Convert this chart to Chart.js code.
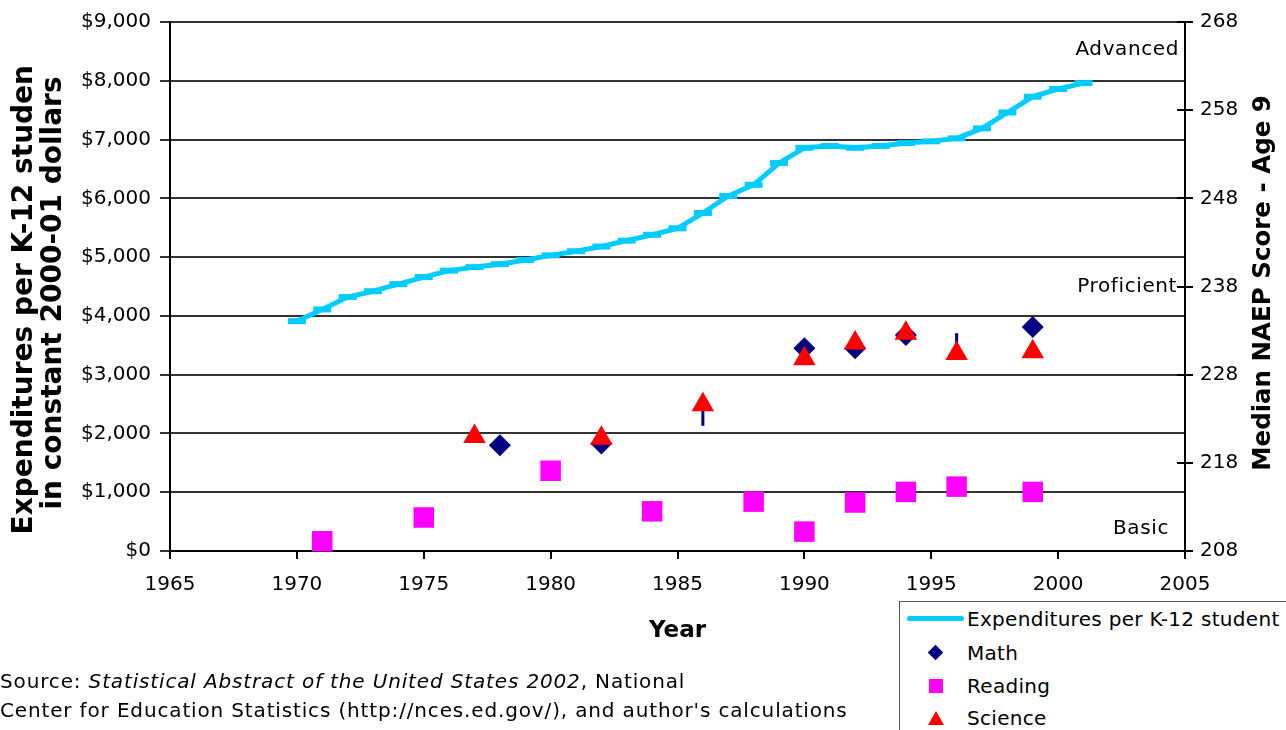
<!DOCTYPE html>
<html lang="en">
<head>
  <meta charset="UTF-8" />
  <title>Expenditures per K-12 student vs NAEP scores</title>
  <script src="https://cdn.jsdelivr.net/npm/chart.js"></script>
  <style>
    body { margin: 0; width: 1286px; height: 730px; overflow: hidden; background: #fff; font-family: "DejaVu Sans", Verdana, sans-serif; }
    #chart { position: absolute; left: 0; top: 0; }
    .source { position: absolute; left: 0; top: 667px; font-size: 20px; line-height: 29px; letter-spacing: 0.85px; color: #000; white-space: nowrap; }
    .legend { position: absolute; left: 899px; top: 601px; width: 420px; height: 160px; border: 1px solid #555; background: #fff; }
    .row { position: absolute; left: 67px; height: 24px; line-height: 24px; font-size: 20px; letter-spacing: 0.3px; color: #000; white-space: nowrap; }
    .swatch { position: absolute; }
  </style>
</head>
<body>
  <canvas id="chart" width="1286" height="730"></canvas>

  <div class="source">
    Source: <i>Statistical Abstract of the United States 2002</i>, National<br>
    Center for Education Statistics (http://nces.ed.gov/), and author's calculations
  </div>

  <div class="legend">
    <div class="swatch" style="left:7px;top:14px;width:57px;height:5px;border-radius:3px;background:#00ccff"></div>
    <div class="row" style="top:5px">Expenditures per K-12 student</div>
    <div class="swatch" style="left:30px;top:45px;width:11px;height:11px;background:#000080;transform:rotate(45deg)"></div>
    <div class="row" style="top:39px">Math</div>
    <div class="swatch" style="left:29px;top:77px;width:14px;height:14px;background:#ff00ff"></div>
    <div class="row" style="top:72px">Reading</div>
    <div class="swatch" style="left:28px;top:109px;width:0;height:0;border-left:8px solid transparent;border-right:8px solid transparent;border-bottom:14px solid #ff0000"></div>
    <div class="row" style="top:104px">Science</div>
  </div>

  <script>
    // expenditures per K-12 student, constant 2000-01 dollars
    const spendYears = [1970, 1971, 1972, 1973, 1974, 1975, 1976, 1977, 1978, 1979,
                        1980, 1981, 1982, 1983, 1984, 1985, 1986, 1987, 1988, 1989,
                        1990, 1991, 1992, 1993, 1994, 1995, 1996, 1997, 1998, 1999,
                        2000, 2001];
    const spending = [3910, 4110, 4320, 4420, 4540, 4660, 4770, 4830, 4880, 4950,
                      5030, 5100, 5180, 5280, 5380, 5490, 5750, 6040, 6230, 6600,
                      6860, 6890, 6860, 6890, 6940, 6970, 7020, 7190, 7460, 7730,
                      7860, 7960];

    // median NAEP scores, age 9
    const mathYears = [1978, 1982, 1986, 1990, 1992, 1994, 1996, 1999];
    const mathScores = [220.0, 220.2, 223.1, 231.0, 231.0, 232.5, 231.8, 233.4];
    const readingYears = [1971, 1975, 1980, 1984, 1988, 1990, 1992, 1994, 1996, 1999];
    const readingScores = [209.1, 211.8, 217.1, 212.5, 213.6, 210.2, 213.5, 214.7, 215.3, 214.7];
    const scienceYears = [1977, 1982, 1986, 1990, 1992, 1994, 1996, 1999];
    const scienceScores = [221.0, 220.8, 224.6, 229.8, 231.6, 232.7, 230.4, 230.6];

    const scoreTicks = [208, 218, 228, 238, 248, 258, 268];
    const bandLabels = ["Advanced", "Proficient", "Basic"];

    const pts = (xs, ys) => xs.map((x, i) => ({ x, y: ys[i] }));
    const FONT = '"DejaVu Sans", Verdana, sans-serif';
    Chart.defaults.font.family = FONT;
    Chart.defaults.font.size = 20;
    Chart.defaults.color = "#000";

    const overlay = {
      id: "overlay",
      afterDraw(chart) {
        const { ctx, chartArea: a, scales } = chart;
        const y1 = scales.y1;
        ctx.save();

        // right axis ticks cross the axis line
        ctx.strokeStyle = "#000";
        ctx.lineWidth = 2;
        y1.ticks.forEach(t => {
          const py = Math.round(y1.getPixelForValue(t.value));
          ctx.beginPath();
          ctx.moveTo(a.right - 8, py);
          ctx.lineTo(a.right, py);
          ctx.stroke();
        });

        // achievement level labels
        ctx.fillStyle = "#000";
        ctx.font = "20px " + FONT;
        ctx.letterSpacing = "0.6px";
        ctx.textAlign = "right";
        ctx.textBaseline = "middle";
        const bandAt = [264.8, 238, 210.5];
        const bandDx = [-6, -8, -16];
        bandLabels.forEach((b, i) => ctx.fillText(b, a.right + bandDx[i], y1.getPixelForValue(bandAt[i])));
        ctx.letterSpacing = "0px";

        // axis titles
        ctx.textAlign = "center";
        ctx.textBaseline = "alphabetic";
        ctx.font = "bold 23px " + FONT;
        ctx.fillText("Year", (a.left + a.right) / 2, 637);

        const vText = (text, x, y, font) => {
          ctx.save();
          ctx.translate(x, y);
          ctx.rotate(-Math.PI / 2);
          ctx.font = font;
          ctx.fillText(text, 0, 0);
          ctx.restore();
        };
        ctx.save();
        ctx.beginPath();
        ctx.rect(0, 67, 160, 700);
        ctx.clip();
        vText("Expenditures per K-12 student", 32, 293, "bold 28px " + FONT);
        ctx.restore();
        vText("in constant 2000-01 dollars", 61, 293, "bold 28px " + FONT);
        vText("Median NAEP Score - Age 9", 1270, 283, "bold 24.5px " + FONT);

        ctx.restore();
      }
    };

    new Chart(document.getElementById("chart"), {
      type: "scatter",
      data: {
        datasets: [
          {
            label: "Science",
            data: pts(scienceYears, scienceScores),
            yAxisID: "y1",
            order: 1,
            clip: false,
            pointStyle: "triangle",
            pointRadius: 13,
            pointBackgroundColor: "#ff0000",
            pointBorderColor: "#ff0000",
            pointBorderWidth: 0
          },
          {
            label: "Reading",
            data: pts(readingYears, readingScores),
            yAxisID: "y1",
            order: 2,
            clip: false,
            pointStyle: "rect",
            pointRadius: 14.5,
            pointBackgroundColor: "#ff00ff",
            pointBorderColor: "#ff00ff",
            pointBorderWidth: 0
          },
          {
            label: "Math",
            data: pts(mathYears, mathScores),
            yAxisID: "y1",
            order: 3,
            clip: false,
            pointStyle: c => [1986, 1996].includes(mathYears[c.dataIndex]) ? "line" : "rectRot",
            rotation: c => [1986, 1996].includes(mathYears[c.dataIndex]) ? 90 : 0,
            pointRadius: c => [1986, 1996].includes(mathYears[c.dataIndex]) ? 8 : 11,
            pointBorderWidth: c => [1986, 1996].includes(mathYears[c.dataIndex]) ? 3 : 0,
            pointBackgroundColor: "#000080",
            pointBorderColor: "#000080"
          },
          {
            label: "Expenditures per K-12 student",
            data: pts(spendYears, spending),
            yAxisID: "y",
            order: 4,
            clip: false,
            showLine: true,
            borderColor: "#00ccff",
            borderWidth: 5,
            borderJoinStyle: "round",
            pointStyle: "line",
            pointRadius: 9,
            pointBorderWidth: 6,
            pointBorderColor: "#00ccff",
            pointBackgroundColor: "#00ccff"
          }
        ]
      },
      options: {
        responsive: false,
        animation: false,
        devicePixelRatio: 1,
        layout: { padding: { top: 22, left: 0, right: 0, bottom: 0 } },
        plugins: {
          legend: { display: false },
          tooltip: { enabled: false }
        },
        scales: {
          x: {
            type: "linear",
            position: "bottom",
            min: 1965,
            max: 2005,
            ticks: { stepSize: 5, padding: 14, callback: v => String(v) },
            grid: { drawOnChartArea: false, tickLength: 8, color: "#000", lineWidth: 2 },
            border: { color: "#000", width: 2 },
            afterFit: s => { s.height = 179; }
          },
          y: {
            position: "left",
            min: 0,
            max: 9000,
            ticks: { stepSize: 1000, padding: 9, callback: v => "$" + v.toLocaleString("en-US") },
            grid: { color: "#333", lineWidth: 2, tickLength: 10 },
            border: { color: "#000", width: 2 },
            afterFit: s => { s.width = 170; }
          },
          y1: {
            position: "right",
            min: 208,
            max: 268,
            afterBuildTicks: s => { s.ticks = scoreTicks.map(v => ({ value: v })); },
            ticks: { padding: 7, callback: v => String(v) },
            grid: { drawOnChartArea: false, tickLength: 8, color: "#000", lineWidth: 2 },
            border: { color: "#000", width: 2 },
            afterFit: s => { s.width = 101; }
          }
        }
      },
      plugins: [overlay]
    });
  </script>
</body>
</html>
